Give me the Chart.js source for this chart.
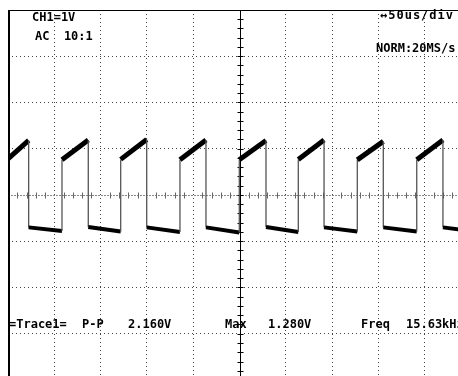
<!DOCTYPE html>
<html lang="en">
<head>
  <meta charset="UTF-8">
  <title>CH1 - Trace1</title>
  <script src="https://cdn.jsdelivr.net/npm/chart.js"></script>
  <style>
    html, body { margin: 0; padding: 0; background: #fff; overflow: hidden; }
    .tela { position: relative; width: 458px; height: 376px; overflow: hidden; }
    .tela canvas { position: absolute; left: 0; top: 0; }
    .lbl {
      position: absolute;
      font-family: "DejaVu Sans Mono", monospace;
      font-weight: bold;
      font-size: 12px;
      line-height: 12px;
      color: #000;
      white-space: pre;
    }
  </style>
</head>
<body>
  <div class="tela">
    <canvas id="scope" width="480" height="390"></canvas>

    <div class="lbl" style="left:32px; top:11px;">CH1=1V</div>
    <div class="lbl" style="left:35px; top:30px;">AC  10:1</div>
    <div class="lbl" style="left:380px; top:9px; letter-spacing:1px;">↔50us/div</div>
    <div class="lbl" style="left:376px; top:42px;">NORM:20MS/s</div>

    <div class="lbl" style="left:9px; top:318px;">=Trace1=</div>
    <div class="lbl" style="left:82px; top:318px;">P-P</div>
    <div class="lbl" style="left:128px; top:318px;">2.160V</div>
    <div class="lbl" style="left:225px; top:318px;">Max</div>
    <div class="lbl" style="left:268px; top:318px;">1.280V</div>
    <div class="lbl" style="left:361px; top:318px;">Freq</div>
    <div class="lbl" style="left:406px; top:318px;">15.63kHz</div>
  </div>

  <script>
    // tempos em us (50us/div, 10 div), tensoes em V (1V/div, 8 div)
    const quedas = [22.3, 86.7, 149.8, 213.8, 278.6, 341.3, 405.3, 469.7];
    const subidas = [58.3, 121.7, 185.7, 249.8, 313.5, 377.2, 441.4];
    const altoInicio = [0.78, 0.76, 0.77, 0.76, 0.76, 0.77, 0.76, 0.76];
    const altoFim = [1.18, 1.19, 1.20, 1.19, 1.18, 1.19, 1.16, 1.19];
    const baixoInicio = [-0.70, -0.69, -0.70, -0.70, -0.69, -0.70, -0.70, -0.70];
    const baixoFim = [-0.78, -0.79, -0.80, -0.81, -0.80, -0.79, -0.79, -0.78];

    const pontos = [{ x: 0, y: altoInicio[0] }];
    quedas.forEach((t, i) => {
      pontos.push({ x: t, y: altoFim[i] });
      pontos.push({ x: t, y: baixoInicio[i] });
      const fim = i < subidas.length ? subidas[i] : 500;
      pontos.push({ x: fim, y: baixoFim[i] });
      if (i < subidas.length) pontos.push({ x: subidas[i], y: altoInicio[i + 1] });
    });

    const ehBorda = c => c.p0.parsed.x === c.p1.parsed.x;

    const moldura = {
      id: 'moldura',
      beforeDatasetsDraw(chart) {
        const { ctx, chartArea, scales } = chart;
        const x = scales.x, y = scales.y;
        ctx.save();
        // linha central horizontal (cinza pontilhada com marcas)
        const y0 = Math.round(y.getPixelForValue(0)) + 0.5;
        ctx.strokeStyle = '#888';
        ctx.lineWidth = 1;
        ctx.setLineDash([2, 1]);
        ctx.beginPath();
        ctx.moveTo(chartArea.left, y0);
        ctx.lineTo(chartArea.right, y0);
        ctx.stroke();
        ctx.setLineDash([]);
        ctx.strokeStyle = '#666';
        for (let t = 10; t < 500; t += 10) {
          if (t % 50 === 0) continue;
          const px = Math.round(x.getPixelForValue(t)) + 0.5;
          ctx.beginPath();
          ctx.moveTo(px, y0 - 3);
          ctx.lineTo(px, y0 + 3);
          ctx.stroke();
        }
        // eixo vertical central (preto com marcas)
        const x0 = Math.round(x.getPixelForValue(250)) + 0.5;
        ctx.strokeStyle = '#000';
        ctx.beginPath();
        ctx.moveTo(x0, chartArea.top);
        ctx.lineTo(x0, chartArea.bottom);
        ctx.stroke();
        for (let v = -3.8; v < 4; v += 0.2) {
          const py = Math.round(y.getPixelForValue(v)) + 0.5;
          ctx.beginPath();
          ctx.moveTo(x0 - 3, py);
          ctx.lineTo(x0 + 3, py);
          ctx.stroke();
        }
        ctx.restore();
      },
      afterDatasetsDraw(chart) {
        const { ctx, chartArea } = chart;
        ctx.save();
        ctx.fillStyle = '#000';
        ctx.fillRect(chartArea.left, chartArea.top, 2, chartArea.bottom - chartArea.top);
        ctx.fillRect(chartArea.left, chartArea.top, chartArea.right - chartArea.left, 1);
        ctx.restore();
      }
    };

    new Chart(document.getElementById('scope'), {
      type: 'line',
      data: {
        datasets: [{
          label: 'CH1',
          data: pontos,
          borderColor: '#000',
          borderWidth: 3,
          borderCapStyle: 'butt',
          borderJoinStyle: 'miter',
          pointRadius: 0,
          tension: 0,
          fill: false,
          segment: {
            borderColor: c => ehBorda(c) ? '#555' : '#000',
            borderWidth: c => ehBorda(c) ? 1.3 : (c.p0.parsed.y > 0 ? 5 : 4)
          }
        }]
      },
      plugins: [moldura],
      options: {
        responsive: false,
        animation: false,
        devicePixelRatio: 1,
        layout: { padding: { left: 8, top: 10, right: 9, bottom: 10 } },
        plugins: { legend: { display: false }, tooltip: { enabled: false } },
        scales: {
          x: {
            type: 'linear',
            min: 0,
            max: 500,
            ticks: { display: false, stepSize: 50 },
            grid: {
              drawTicks: false,
              lineWidth: 1,
              color: c => c.tick && c.tick.value === 250 ? 'transparent' : '#444'
            },
            border: { display: false, dash: [1, 3] }
          },
          y: {
            min: -4,
            max: 4,
            ticks: { display: false, stepSize: 1 },
            grid: {
              drawTicks: false,
              lineWidth: 1,
              color: c => c.tick && c.tick.value === 0 ? 'transparent' : '#444'
            },
            border: { display: false, dash: [1, 3] }
          }
        }
      }
    });
  </script>
</body>
</html>
